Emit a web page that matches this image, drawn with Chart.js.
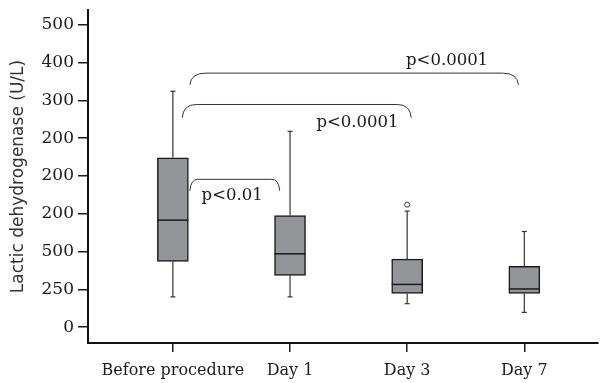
<!DOCTYPE html>
<html>
<head>
<meta charset="utf-8">
<script src="https://cdn.jsdelivr.net/npm/chart.js@4.4.1/dist/chart.umd.min.js"></script>
<style>
  html, body { margin: 0; padding: 0; background: #fff; }
  #wrap { width: 603px; height: 383px; }
</style>
</head>
<body>
<div id="wrap"><canvas id="box"></canvas></div>
<script>
// data (y values are in tick-slot units: slot i carries label yTickLabels[i])
const categories = ["Before procedure", "Day 1", "Day 3", "Day 7"];
const yTickLabels = ["0", "250", "500", "200", "200", "200", "300", "400", "500"];
const whiskerLow = [0.80, 0.80, 0.62, 0.39];
const q1 = [1.74, 1.37, 0.89, 0.89];
const medians = [2.83, 1.94, 1.13, 1.01];
const q3 = [4.48, 2.95, 1.80, 1.61];
const whiskerHigh = [6.24, 5.18, 3.07, 2.53];
const outlierGroup = [3];
const outlierValue = [3.24];

// significance brackets, in data units
const bracketFrom = [1.145, 1.08, 1.145];
const bracketTo = [1.912, 3.035, 3.95];
const bracketTop = [3.91, 5.89, 6.72];
const bracketFoot = [3.61, 5.54, 6.41];
const bracketText = ["p<0.01", "p<0.0001", "p<0.0001"];
const textX = [1.245, 2.225, 2.99];
const textY = [3.47, 5.42, 7.05];

// corner size of each bracket, px
const bracketCorner = [8, 14, 16];

const serif = "'DejaVu Serif', serif";
const ink = "#1a1a1a";

// whiskers, caps, medians and brackets
const boxExtras = {
  id: "boxExtras",
  afterDatasetsDraw(chart) {
    const ctx = chart.ctx;
    const xs = chart.scales.x, ys = chart.scales.y;
    ctx.save();
    ctx.strokeStyle = "#333";
    ctx.lineWidth = 1.2;
    categories.forEach((c, i) => {
      const x = xs.getPixelForValue(i + 1);
      const segs = [[whiskerHigh[i], q3[i]], [q1[i], whiskerLow[i]]];
      segs.forEach(([a, b]) => {
        ctx.beginPath();
        ctx.moveTo(x, ys.getPixelForValue(a));
        ctx.lineTo(x, ys.getPixelForValue(b));
        ctx.stroke();
      });
      [whiskerHigh[i], whiskerLow[i]].forEach((v) => {
        const y = ys.getPixelForValue(v);
        ctx.beginPath();
        ctx.moveTo(x - 2.5, y);
        ctx.lineTo(x + 2.5, y);
        ctx.stroke();
      });
    });

    ctx.strokeStyle = ink;
    ctx.lineWidth = 1.5;
    categories.forEach((c, i) => {
      const x = xs.getPixelForValue(i + 1);
      const y = ys.getPixelForValue(medians[i]);
      ctx.beginPath();
      ctx.moveTo(x - 15.5, y);
      ctx.lineTo(x + 15.5, y);
      ctx.stroke();
    });

    ctx.strokeStyle = "#333";
    ctx.lineWidth = 1;
    bracketText.forEach((t, i) => {
      const x1 = xs.getPixelForValue(bracketFrom[i]);
      const x2 = xs.getPixelForValue(bracketTo[i]);
      const yt = ys.getPixelForValue(bracketTop[i]);
      const yf = ys.getPixelForValue(bracketFoot[i]);
      const r = bracketCorner[i];
      ctx.beginPath();
      ctx.moveTo(x1, yf);
      ctx.quadraticCurveTo(x1 + 1, yt, x1 + r, yt);
      ctx.lineTo(x2 - r, yt);
      ctx.quadraticCurveTo(x2 - 1, yt, x2, yf);
      ctx.stroke();

      ctx.fillStyle = ink;
      ctx.font = "16.5px " + serif;
      ctx.textBaseline = "middle";
      ctx.textAlign = "left";
      ctx.fillText(t, xs.getPixelForValue(textX[i]), ys.getPixelForValue(textY[i]));
    });
    ctx.restore();
  }
};

new Chart(document.getElementById("box"), {
  data: {
    datasets: [
      {
        type: "bar",
        data: categories.map((c, i) => ({ x: i + 1, y: [q1[i], q3[i]] })),
        backgroundColor: "#939598",
        borderColor: ink,
        borderWidth: 1.5,
        borderSkipped: false,
        barThickness: 31
      },
      {
        type: "scatter",
        data: outlierGroup.map((g, i) => ({ x: g, y: outlierValue[i] })),
        pointRadius: 2.5,
        pointBackgroundColor: "#fff",
        pointBorderColor: "#333",
        pointBorderWidth: 1
      }
    ]
  },
  options: {
    responsive: true,
    maintainAspectRatio: false,
    animation: false,
    layout: { padding: { top: 10, left: 0, right: 0, bottom: 0 } },
    plugins: { legend: { display: false }, tooltip: { enabled: false } },
    scales: {
      x: {
        type: "linear",
        offset: false,
        min: 0.2754,
        max: 4.629,
        afterBuildTicks: (s) => { s.ticks = categories.map((c, i) => ({ value: i + 1 })); },
        afterFit: (s) => { s.height = 40; s.paddingLeft = 0; s.paddingRight = 0; },
        grid: { offset: false, drawOnChartArea: false, tickLength: 9, color: ink, lineWidth: 1.5 },
        border: { color: "#111", width: 2 },
        ticks: {
          callback: (v) => categories[v - 1],
          font: { family: serif, size: 16 },
          color: ink,
          padding: 9,
          maxRotation: 0,
          autoSkip: false
        }
      },
      y: {
        min: -0.42,
        max: 8.39,
        afterBuildTicks: (s) => { s.ticks = yTickLabels.map((t, i) => ({ value: i })); },
        afterFit: (s) => { s.width = 88; s.paddingTop = 0; s.paddingBottom = 0; },
        grid: { drawOnChartArea: false, tickLength: 10, color: ink, lineWidth: 1.5 },
        border: { color: "#111", width: 2 },
        ticks: {
          callback: (v) => yTickLabels[v],
          font: { family: serif, size: 17 },
          color: ink,
          padding: 4
        },
        title: {
          display: true,
          text: "Lactic dehydrogenase (U/L)",
          font: { family: "'DejaVu Sans', sans-serif", size: 17 },
          color: "#333",
          padding: { top: 8, bottom: 0 }
        }
      }
    }
  },
  plugins: [boxExtras]
});
</script>
</body>
</html>
